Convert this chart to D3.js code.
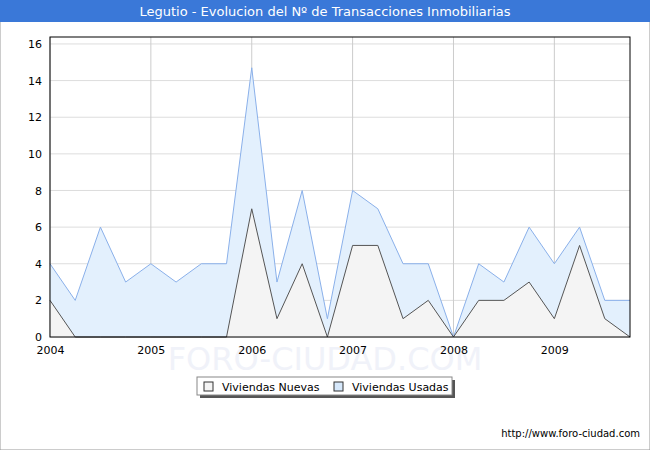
<!DOCTYPE html><html><head><meta charset="utf-8"><script src="https://cdn.jsdelivr.net/npm/d3@7"></script>
<style>body{margin:0;background:#fff}svg{font-family:Verdana,"DejaVu Sans",sans-serif}</style></head><body><svg width="650" height="450"></svg>
<script>
const quarters = d3.range(24).map(i => 2004 + i/4);
const usadas = [4,2,6,3,4,3,4,4,14.7,3,8,1,8,7,4,4,0,4,3,6,4,6,2,2];
const nuevas = [2,0,0,0,0,0,0,0,7,1,4,0,5,5,1,2,0,2,2,3,1,5,1,0];
const yTicks = [0,2,4,6,8,10,12,14,16];
const xTicks = [2004,2005,2006,2007,2008,2009];
const svg=d3.select("svg");
svg.append("rect").attr("width",650).attr("height",450).attr("fill","#fff").attr("stroke","#999");
svg.append("rect").attr("width",650).attr("height",22).attr("fill","#3a78d8");
svg.append("text").attr("x",325).attr("y",16).attr("text-anchor","middle").attr("fill","#fff").attr("font-size",13).text("Legutio - Evolucion del Nº de Transacciones Inmobiliarias");
const x=d3.scaleLinear().domain([2004,2009.75]).range([50,630]);
const y=d3.scaleLinear().domain([0,16.38]).range([337,37]);
const g=svg.append("g");
g.selectAll(".hg").data(yTicks).join("line").attr("x1",50).attr("x2",630).attr("y1",d=>y(d)).attr("y2",d=>y(d)).attr("stroke","#ddd");
g.selectAll(".vg").data(xTicks).join("line").attr("x1",d=>x(d)).attr("x2",d=>x(d)).attr("y1",37).attr("y2",337).attr("stroke","#ccc");
svg.append("text").attr("x",325).attr("y",370).attr("text-anchor","middle").attr("font-size",32).attr("fill","#f0f2f9").text("FORO-CIUDAD.COM");
const area=v=>d3.area().x((d,i)=>x(quarters[i])).y0(y(0)).y1(d=>y(d))(v);
const line=v=>d3.line().x((d,i)=>x(quarters[i])).y(d=>y(d))(v);
svg.append("path").attr("d",area(usadas)).attr("fill","#e3f0fd");
svg.append("path").attr("d",line(usadas)).attr("fill","none").attr("stroke","#8ab0ea");
svg.append("path").attr("d",area(nuevas)).attr("fill","#f4f4f4");
svg.append("path").attr("d",line(nuevas)).attr("fill","none").attr("stroke","#555");
svg.append("rect").attr("x",50).attr("y",37).attr("width",580).attr("height",300).attr("fill","none").attr("stroke","#000");
svg.append("g").attr("transform","translate(50,0)").call(d3.axisLeft(y).tickValues(yTicks).tickSize(0).tickPadding(8)).call(a=>a.select(".domain").remove()).selectAll("text").attr("font-size",11).attr("font-family","Verdana,DejaVu Sans");
svg.append("g").attr("transform","translate(0,337)").call(d3.axisBottom(x).tickValues(xTicks).tickFormat(d3.format("d")).tickSize(0).tickPadding(9)).call(a=>a.select(".domain").remove()).selectAll("text").attr("font-size",11).attr("font-family","Verdana,DejaVu Sans");
const L=svg.append("g");
L.append("rect").attr("x",200).attr("y",380).attr("width",255).attr("height",18).attr("fill","#555");
L.append("rect").attr("x",197).attr("y",377).attr("width",255).attr("height",18).attr("fill","#fff").attr("stroke","#888");
[["Viviendas Nuevas","#f4f4f4",204],["Viviendas Usadas","#d6e8fb",334]].forEach(([t,c,lx])=>{
L.append("rect").attr("x",lx).attr("y",382).attr("width",9).attr("height",9).attr("fill",c).attr("stroke","#333");
L.append("text").attr("x",lx+18).attr("y",391).attr("font-size",11).text(t);});
svg.append("text").attr("x",640).attr("y",437).attr("text-anchor","end").attr("font-size",10).text("http://www.foro-ciudad.com");
</script></body></html>
